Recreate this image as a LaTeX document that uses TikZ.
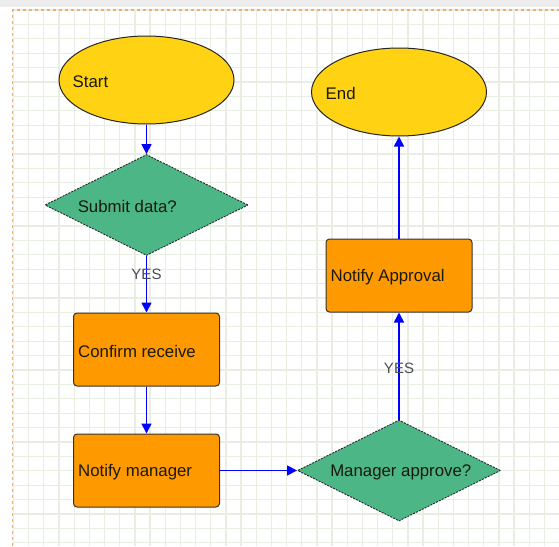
\documentclass[tikz,border=0pt]{standalone}
\usepackage{fontspec}
\setmainfont{Liberation Sans}
\usetikzlibrary{shapes.geometric,arrows.meta}
\definecolor{gridc}{RGB}{232,238,226}
\definecolor{bordc}{RGB}{245,172,105}
\definecolor{yel}{RGB}{255,211,20}
\definecolor{grn}{RGB}{76,182,135}
\definecolor{org}{RGB}{255,153,0}
\definecolor{txtc}{RGB}{25,25,15}
\definecolor{yesc}{RGB}{75,75,90}
\tikzset{
  termshape/.style={ellipse, draw=black!85, line width=1pt, fill=yel, minimum width=175pt, minimum height=88pt, inner sep=0pt},
  decshape/.style={diamond, draw=black!85, line width=0.9pt, dash pattern=on 2pt off 1.2pt, fill=grn, minimum width=203pt, minimum height=101pt, inner sep=0pt},
  procshape/.style={rectangle, rounded corners=3.5pt, draw=black!80, line width=1pt, fill=org, minimum width=146pt, minimum height=73pt, inner sep=0pt},
  txt/.style={anchor=west, inner sep=0pt, text=txtc, font=\fontsize{16.8}{20}\selectfont},
  yeslbl/.style={inner sep=0pt, text=yesc, font=\fontsize{15}{18}\selectfont},
  flow/.style={draw=blue, line width=1.6pt, -{Triangle[length=10pt,width=10pt]}},
}
\begin{document}
\begin{tikzpicture}[x=1pt, y=-1pt]
\useasboundingbox (0,0) rectangle (559,546);
% background
\fill[white] (0,0) rectangle (559,546);
\fill[black!7] (0,0) rectangle (559,7);
% grid
\foreach \k in {0,...,35} {
  \draw[gridc, line width=1.3pt] ({13.5+15.17*\k},10) -- ({13.5+15.17*\k},546);
}
\foreach \k in {0,...,37} {
  \draw[gridc, line width=1.3pt] (13,{10+14.4*\k}) -- (559,{10+14.4*\k});
}
% dashed border
\draw[bordc, line width=1.5pt, dash pattern=on 3pt off 3pt] (12.7,546) -- (12.7,10) -- (559,10);

% shapes
\node[termshape] (start) at (146.5,80) {};
\node[termshape] (end) at (399,92) {};
\node[decshape] (submit) at (146.5,205) {};
\node[procshape] (confirm) at (146.5,349.5) {};
\node[procshape] (notify) at (146.5,470.5) {};
\node[decshape] (approve) at (399,470.5) {};
\node[procshape] (approval) at (399,275.5) {};

% texts
\node[txt] (tstart) at ([xshift=14pt,yshift=-1.5pt]start.west) {Start};
\node[txt] (tend) at ([xshift=14.5pt,yshift=-1.5pt]end.west) {End};
\node[txt] (tsubmit) at ([xshift=33pt,yshift=-1.5pt]submit.west) {Submit data?};
\node[txt] (tconfirm) at ([xshift=5pt,yshift=-1.5pt]confirm.west) {Confirm receive};
\node[txt] (tnotify) at ([xshift=5pt,yshift=-1.5pt]notify.west) {Notify manager};
\node[txt] (tapprove) at ([xshift=33pt,yshift=-1.5pt]approve.west) {Manager approve?};
\node[txt] (tapproval) at ([xshift=5pt,yshift=-1.5pt]approval.west) {Notify Approval};

% connectors
\draw[flow] (start.south) -- (submit.north);
\draw[flow] (submit.south) -- (confirm.north);
\draw[flow] (confirm.south) -- (notify.north);
\draw[flow] (notify.east) -- (approve.west);
\draw[flow] (approve.north) -- (approval.south);
\draw[flow] (approval.north) -- (end.south);

% labels
\node[yeslbl] (yes1) at (146.5,274.5) {YES};
\node[yeslbl] (yes2) at (399,368.5) {YES};
\end{tikzpicture}
\end{document}
